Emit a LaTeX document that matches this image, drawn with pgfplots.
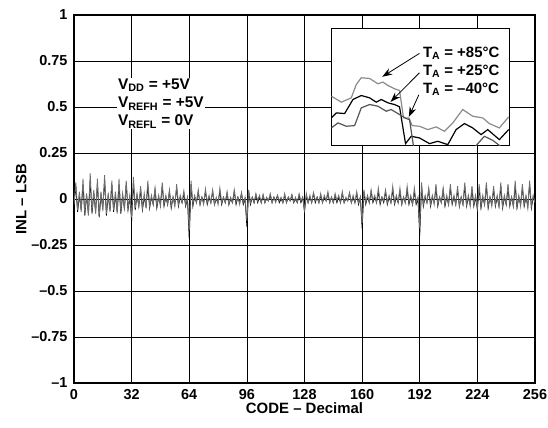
\documentclass[border=0pt]{standalone}
\usepackage{fontspec}
\setmainfont{Liberation Sans}
\usepackage{pgfplots}
\usepackage{pgfplotstable}
\pgfplotsset{compat=1.18}
\usetikzlibrary{arrows.meta}

\definecolor{midgray}{RGB}{110,110,110}
\definecolor{lightgray}{RGB}{140,140,140}
\definecolor{darkgray}{RGB}{85,85,85}

% INL per code: g = grey trace, b = black trace
\pgfplotstableread[row sep=\\]{
code g b\\
0 -0.03 -0.03\\ 1 0.09 0.07\\ 2 -0.06 -0.07\\ 3 0.04 0.02\\
4 -0.07 -0.06\\ 5 0.11 0.08\\ 6 -0.08 -0.09\\ 7 0.03 0.02\\
8 -0.09 -0.08\\ 9 0.14 0.10\\ 10 -0.07 -0.08\\ 11 0.05 0.03\\
12 -0.08 -0.07\\ 13 0.11 0.08\\ 14 -0.09 -0.10\\ 15 0.04 0.02\\
16 -0.06 -0.05\\ 17 0.13 0.10\\ 18 -0.08 -0.09\\ 19 0.03 0.02\\
20 -0.07 -0.06\\ 21 0.10 0.08\\ 22 -0.06 -0.07\\ 23 0.04 0.02\\
24 -0.08 -0.07\\ 25 0.11 0.08\\ 26 -0.07 -0.08\\ 27 0.03 0.02\\
28 -0.06 -0.05\\ 29 0.10 0.08\\ 30 -0.05 -0.06\\ 31 0.02 0.01\\
32 -0.10 -0.12\\ 33 0.12 0.09\\ 34 -0.05 -0.06\\ 35 0.03 0.02\\
36 -0.04 -0.04\\ 37 0.07 0.05\\ 38 -0.05 -0.06\\ 39 0.03 0.01\\
40 -0.05 -0.04\\ 41 0.10 0.07\\ 42 -0.04 -0.05\\ 43 0.02 0.01\\
44 -0.03 -0.03\\ 45 0.06 0.05\\ 46 -0.04 -0.05\\ 47 0.02 0.01\\
48 -0.04 -0.03\\ 49 0.09 0.07\\ 50 -0.03 -0.04\\ 51 0.02 0.01\\
52 -0.03 -0.03\\ 53 0.05 0.04\\ 54 -0.04 -0.05\\ 55 0.01 0.01\\
56 -0.04 -0.03\\ 57 0.08 0.06\\ 58 -0.03 -0.04\\ 59 0.02 0.01\\
60 -0.02 -0.02\\ 61 0.045 0.03\\ 62 -0.03 -0.04\\ 63 0.01 0.00\\
64 -0.17 -0.22\\ 65 0.10 0.08\\ 66 -0.03 -0.04\\ 67 0.02 0.01\\
68 -0.02 -0.02\\ 69 0.05 0.04\\ 70 -0.03 -0.03\\ 71 0.01 0.01\\
72 -0.03 -0.02\\ 73 0.055 0.04\\ 74 -0.02 -0.03\\ 75 0.02 0.01\\
76 -0.02 -0.02\\ 77 0.05 0.04\\ 78 -0.03 -0.03\\ 79 0.01 0.00\\
80 -0.03 -0.02\\ 81 0.06 0.04\\ 82 -0.02 -0.03\\ 83 0.01 0.01\\
84 -0.02 -0.02\\ 85 0.04 0.03\\ 86 -0.03 -0.03\\ 87 0.01 0.00\\
88 -0.02 -0.02\\ 89 0.05 0.04\\ 90 -0.02 -0.03\\ 91 0.01 0.01\\
92 -0.03 -0.02\\ 93 0.035 0.03\\ 94 -0.02 -0.03\\ 95 0.01 0.00\\
96 -0.12 -0.15\\ 97 0.05 0.04\\ 98 -0.02 -0.03\\ 99 0.01 0.01\\
100 -0.02 -0.02\\ 101 0.03 0.02\\ 102 -0.01 -0.02\\ 103 0.02 0.01\\
104 -0.02 -0.02\\ 105 0.025 0.02\\ 106 -0.02 -0.02\\ 107 0.01 0.00\\
108 -0.01 -0.01\\ 109 0.03 0.02\\ 110 -0.02 -0.02\\ 111 0.01 0.01\\
112 -0.02 -0.01\\ 113 0.02 0.02\\ 114 -0.01 -0.02\\ 115 0.01 0.00\\
116 -0.02 -0.02\\ 117 0.03 0.02\\ 118 -0.02 -0.02\\ 119 0.01 0.01\\
120 -0.01 -0.01\\ 121 0.025 0.02\\ 122 -0.02 -0.02\\ 123 0.01 0.00\\
124 -0.02 -0.02\\ 125 0.03 0.02\\ 126 -0.01 -0.02\\ 127 0.01 0.01\\
128 -0.06 -0.07\\ 129 0.03 0.02\\ 130 -0.02 -0.02\\ 131 0.02 0.01\\
132 -0.02 -0.02\\ 133 0.035 0.03\\ 134 -0.01 -0.02\\ 135 0.01 0.01\\
136 -0.02 -0.02\\ 137 0.03 0.02\\ 138 -0.02 -0.02\\ 139 0.02 0.01\\
140 -0.01 -0.01\\ 141 0.04 0.03\\ 142 -0.02 -0.02\\ 143 0.01 0.01\\
144 -0.02 -0.02\\ 145 0.03 0.02\\ 146 -0.01 -0.02\\ 147 0.02 0.01\\
148 -0.02 -0.02\\ 149 0.04 0.03\\ 150 -0.02 -0.02\\ 151 0.01 0.00\\
152 -0.01 -0.01\\ 153 0.035 0.03\\ 154 -0.02 -0.02\\ 155 0.02 0.01\\
156 -0.02 -0.02\\ 157 0.04 0.03\\ 158 -0.02 -0.03\\ 159 0.01 0.01\\
160 -0.13 -0.16\\ 161 0.05 0.04\\ 162 -0.02 -0.03\\ 163 0.02 0.01\\
164 -0.02 -0.02\\ 165 0.05 0.04\\ 166 -0.01 -0.02\\ 167 0.02 0.01\\
168 -0.02 -0.02\\ 169 0.06 0.04\\ 170 -0.02 -0.03\\ 171 0.01 0.01\\
172 -0.01 -0.02\\ 173 0.05 0.04\\ 174 -0.02 -0.03\\ 175 0.02 0.01\\
176 -0.02 -0.02\\ 177 0.07 0.05\\ 178 -0.02 -0.03\\ 179 0.02 0.01\\
180 -0.02 -0.02\\ 181 0.06 0.04\\ 182 -0.03 -0.03\\ 183 0.01 0.01\\
184 -0.02 -0.02\\ 185 0.07 0.05\\ 186 -0.02 -0.03\\ 187 0.02 0.01\\
188 -0.03 -0.03\\ 189 0.06 0.04\\ 190 -0.02 -0.03\\ 191 0.01 0.00\\
192 -0.16 -0.20\\ 193 0.09 0.07\\ 194 -0.03 -0.04\\ 195 0.02 0.01\\
196 -0.02 -0.02\\ 197 0.06 0.05\\ 198 -0.03 -0.04\\ 199 0.02 0.01\\
200 -0.03 -0.02\\ 201 0.08 0.06\\ 202 -0.03 -0.04\\ 203 0.01 0.01\\
204 -0.02 -0.02\\ 205 0.06 0.05\\ 206 -0.03 -0.04\\ 207 0.02 0.01\\
208 -0.03 -0.03\\ 209 0.08 0.06\\ 210 -0.02 -0.03\\ 211 0.02 0.01\\
212 -0.03 -0.03\\ 213 0.07 0.05\\ 214 -0.04 -0.04\\ 215 0.01 0.01\\
216 -0.03 -0.03\\ 217 0.09 0.07\\ 218 -0.03 -0.04\\ 219 0.02 0.01\\
220 -0.04 -0.03\\ 221 0.07 0.05\\ 222 -0.03 -0.04\\ 223 0.02 0.01\\
224 -0.05 -0.06\\ 225 0.08 0.06\\ 226 -0.04 -0.05\\ 227 0.02 0.01\\
228 -0.03 -0.03\\ 229 0.09 0.07\\ 230 -0.04 -0.05\\ 231 0.01 0.01\\
232 -0.04 -0.03\\ 233 0.07 0.05\\ 234 -0.03 -0.04\\ 235 0.02 0.01\\
236 -0.04 -0.04\\ 237 0.09 0.07\\ 238 -0.04 -0.05\\ 239 0.02 0.01\\
240 -0.03 -0.03\\ 241 0.08 0.06\\ 242 -0.03 -0.04\\ 243 0.01 0.01\\
244 -0.04 -0.04\\ 245 0.10 0.07\\ 246 -0.04 -0.05\\ 247 0.02 0.01\\
248 -0.04 -0.03\\ 249 0.08 0.06\\ 250 -0.03 -0.04\\ 251 0.02 0.01\\
252 -0.05 -0.04\\ 253 0.10 0.08\\ 254 -0.04 -0.05\\ 255 0.02 0.01\\
256 -0.02 -0.02\\
}\inl

% inset traces, in the inset's own (unscaled) units
\pgfplotstableread[row sep=\\]{
x y\\ 35 230\\ 65 248\\ 95 235\\ 110 195\\ 125 175\\ 150 177\\ 175 193\\ 190 188\\
205 198\\ 225 208\\ 240 213\\ 252 295\\ 268 295\\ 278 318\\ 300 320\\ 325 330\\
350 322\\ 375 335\\ 400 310\\ 430 270\\ 460 290\\ 490 295\\ 510 312\\ 540 325\\ 568 292\\
}\tpos
\pgfplotstableread[row sep=\\]{
x y\\ 35 295\\ 50 280\\ 75 282\\ 100 240\\ 125 228\\ 150 235\\ 170 248\\ 185 240\\
205 250\\ 225 255\\ 240 262\\ 258 372\\ 275 350\\ 300 355\\ 330 372\\ 355 365\\
385 375\\ 410 330\\ 435 312\\ 460 325\\ 485 345\\ 505 330\\ 540 360\\ 568 330\\
}\troom
\pgfplotstableread[row sep=\\]{
x y\\ 35 325\\ 55 310\\ 80 320\\ 105 318\\ 125 265\\ 150 255\\ 175 260\\ 200 275\\
215 270\\ 240 285\\ 260 297\\ 270 300\\ 285 400\\ 450 400\\ 470 378\\ 495 350\\
520 362\\ 550 385\\ 570 395\\
}\tneg

\begin{document}
\begin{tikzpicture}
\begin{axis}[
    name=main,
    scale only axis,
    width=461bp, height=368bp,
    xmin=0, xmax=256, ymin=-1, ymax=1,
    xtick={0,32,64,96,128,160,192,224,256},
    ytick={-1,-0.75,-0.5,-0.25,0,0.25,0.5,0.75,1},
    yticklabels={–1,–0.75,–0.5,–0.25,0,0.25,0.5,0.75,1},
    grid=major,
    major grid style={black, line width=0.7bp},
    major tick length=0pt,
    axis line style={line width=1.3bp},
    /pgf/number format/assume math mode=true,
    tick label style={font=\fontsize{14.5}{16}\selectfont\bfseries},
    xticklabel style={yshift=-3bp},
    yticklabel style={xshift=-3bp},
    label style={font=\fontsize{15}{17}\selectfont\bfseries},
    xlabel={CODE – Decimal},
    ylabel={INL – LSB},
    xlabel style={yshift=4bp},
    ylabel style={yshift=-2bp},
    clip mode=individual,
]
\addplot[black, line width=0.75bp] table[x=code, y=b] {\inl};
\addplot[midgray, line width=0.85bp] table[x=code, y=g] {\inl};
\node[anchor=north west, fill=white, inner sep=1bp, align=left,
      font=\fontsize{15.5}{18.3}\selectfont\bfseries]
  at (axis cs:23.8,0.66)
  {V\textsubscript{DD} = +5V\\V\textsubscript{REFH} = +5V\\V\textsubscript{REFL} = 0V};
\coordinate (insetsw) at (axis cs:142.9,0.29);
\end{axis}

\begin{axis}[
    at={(insetsw)}, anchor=south west,
    scale only axis,
    width=178bp, height=117bp,
    xmin=35, xmax=570, ymin=28, ymax=378,
    y dir=reverse,
    xtick=\empty, ytick=\empty,
    axis background/.style={fill=white},
    axis line style={line width=1.3bp},
    clip mode=individual,
]
\addplot[lightgray, line width=1.2bp] table {\tpos};
\addplot[black, line width=1.2bp] table {\troom};
\addplot[darkgray, line width=1.2bp] table {\tneg};
\draw[-{Stealth[length=10bp,width=7bp]}, line width=0.8bp] (axis cs:300,102) -- (axis cs:188,172);
\draw[-{Stealth[length=10bp,width=7bp]}, line width=0.8bp] (axis cs:300,160) -- (axis cs:213,247);
\draw[-{Stealth[length=10bp,width=7bp]}, line width=0.8bp] (axis cs:298,226) -- (axis cs:268,292);
\begin{scope}[every node/.style={anchor=base west, inner sep=0pt,
      font=\fontsize{15}{17}\selectfont\bfseries}]
\node at (axis cs:310,113) {T\textsubscript{A} = +85°C};
\node at (axis cs:310,168) {T\textsubscript{A} = +25°C};
\node at (axis cs:310,222) {T\textsubscript{A} = –40°C};
\end{scope}
\end{axis}

\pgfresetboundingbox
\path (main.south west) ++(-74bp,-45bp) rectangle ++(548bp,428bp);
\end{tikzpicture}
\end{document}
